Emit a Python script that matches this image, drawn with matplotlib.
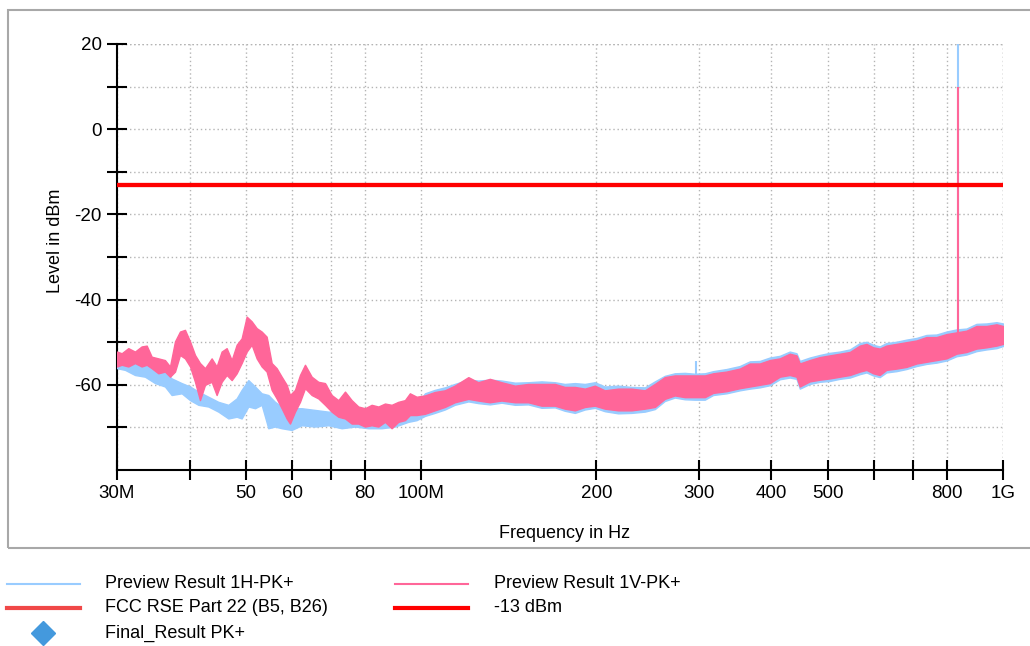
import matplotlib.pyplot as plt
from matplotlib.lines import Line2D
from matplotlib.patches import Rectangle
from matplotlib.ticker import FixedLocator, NullFormatter

plt.rcParams['font.family'] = ['Liberation Sans', 'DejaVu Sans']
plt.rcParams['axes.unicode_minus'] = False

# Preview Result 1V-PK+ : frequency (MHz), lower / upper envelope of the peak trace (dBm)
v_freq = [30, 30.56, 31.37, 32.21, 33.07, 33.74, 34.41, 35.33, 36.27, 37.0, 37.74, 38.49, 39.26,
          40.05, 40.85, 41.66, 42.5, 43.63, 44.5, 45.39, 46.3, 47.23, 48.17, 49.13, 50.12, 51.12,
          52.14, 53.18, 54.24, 55.33, 56.43, 57.56, 58.71, 59.49, 60.68, 61.89, 63.13, 64.82, 66.55,
          68.33, 70.15, 72.03, 73.96, 75.93, 77.96, 80.05, 82.18, 84.38, 86.63, 88.95, 91.32, 93.76,
          95.62, 98.18,
          101.5, 105.5, 109.8, 114.2, 120.5, 125.3, 131.2, 137.4, 144.9, 152.7, 161.0, 169.7, 176.5,
          183.7, 191.1, 198.8, 206.8, 218.0, 229.8, 242.3, 252.1, 262.2, 272.8, 283.8, 295.3, 307.2,
          317.5, 334.7, 352.8, 367.1, 381.9, 397.3, 413.4, 430.0, 441.6, 447.4, 465.4, 484.2, 503.8,
          524.2, 545.4, 567.4, 582.6, 598.0, 613.8, 630.2, 655.7, 682.3, 709.9, 738.6, 768.4, 799.5,
          831.7, 865.3, 900.2, 936.6, 974.5, 1000]
v_hi = [-52.2, -52.6, -51.4, -52.2, -51.0, -50.8, -53.4, -53.8, -54.2, -55.7, -49.8, -47.5, -47.1,
        -49.8, -53.0, -54.9, -56.1, -53.8, -55.7, -52.2, -51.4, -54.2, -50.6, -49.1, -44.0, -45.1,
        -46.7, -47.5, -48.7, -54.9, -56.1, -58.1, -60.0, -62.4, -61.2, -57.7, -55.3, -58.1, -59.3,
        -59.6, -62.4, -63.6, -61.6, -63.6, -65.1, -65.5, -64.7, -65.1, -64.4, -64.7, -64.0, -63.6,
        -62.0, -62.8,
        -62.5, -61.7, -61.3, -60.2, -58.2, -59.4, -58.6, -59.4, -60.2, -59.8, -59.8, -59.8, -60.5,
        -60.5, -60.9, -60.2, -61.3, -60.9, -60.9, -61.3, -59.8, -58.2, -57.8, -57.8, -57.8, -57.8,
        -57.3, -56.9, -56.2, -55.0, -55.0, -54.2, -53.8, -52.7, -53.1, -55.0, -54.2, -53.5, -53.1,
        -52.7, -52.3, -50.8, -50.4, -51.2, -51.5, -50.8, -50.4, -50.0, -49.6, -48.8, -48.8, -48.1,
        -47.7, -47.3, -46.2, -46.2, -45.8, -46.2]
v_lo = [-55.7, -55.3, -55.7, -54.9, -55.7, -55.3, -56.1, -57.3, -56.9, -58.1, -56.9, -53.0, -53.8,
        -55.7, -59.3, -63.6, -60.0, -59.3, -62.4, -59.3, -57.7, -58.9, -57.3, -54.9, -52.2, -50.6,
        -53.8, -55.7, -56.9, -61.2, -63.2, -65.5, -67.9, -69.1, -66.3, -64.0, -60.8, -62.4, -63.2,
        -64.7, -66.3, -67.5, -67.9, -69.1, -69.1, -69.8, -69.5, -69.8, -68.7, -70.2, -68.7, -68.3,
        -67.1, -67.1,
        -66.8, -66.0, -65.2, -64.1, -63.3, -63.7, -64.1, -63.7, -64.1, -64.1, -64.9, -64.9, -65.6,
        -66.0, -65.2, -64.9, -65.6, -66.0, -66.0, -65.6, -65.2, -63.3, -62.5, -62.9, -62.9, -62.9,
        -61.9, -61.5, -60.8, -60.4, -60.0, -59.6, -58.1, -57.7, -58.1, -60.4, -59.2, -58.8, -58.5,
        -58.1, -57.7, -56.9, -56.5, -57.3, -57.7, -56.5, -56.2, -55.8, -55.0, -54.6, -54.2, -53.8,
        -52.7, -52.3, -51.5, -51.2, -50.8, -50.4]

# Preview Result 1H-PK+
h_freq = [30, 30.97, 32.21, 33.51, 34.87, 36.27, 37.24, 38.75, 40.05, 41.39, 43.06, 44.8, 46.61,
          48.17, 49.13, 50.45, 51.8, 53.18, 54.6, 56.06, 57.56, 59.88, 62.3, 65.68, 69.23, 72.99,
          76.94, 81.11, 85.5, 90.13, 94.99, 98.18,
          101.5, 105.5, 109.8, 114.2, 120.5, 125.3, 131.2, 137.4, 144.9, 152.7, 161.0, 169.7, 176.5,
          183.7, 191.1, 198.8, 206.8, 218.0, 229.8, 242.3, 252.1, 262.2, 272.8, 283.8, 295.3, 307.2,
          317.5, 334.7, 352.8, 367.1, 381.9, 397.3, 413.4, 430.0, 441.6, 447.4, 465.4, 484.2, 503.8,
          524.2, 545.4, 567.4, 582.6, 598.0, 613.8, 630.2, 655.7, 682.3, 709.9, 738.6, 768.4, 799.5,
          831.7, 865.3, 900.2, 936.6, 974.5, 1000]
h_hi = [-53.0, -53.8, -54.2, -54.9, -56.5, -56.9, -58.5, -59.6, -60.4, -61.6, -62.8, -64.0, -64.7,
        -63.2, -61.2, -58.9, -60.4, -62.0, -62.4, -64.0, -65.1, -65.5, -65.5, -65.9, -66.3, -66.3,
        -66.7, -66.7, -66.3, -66.7, -65.9, -64.7,
        -62.0, -61.2, -60.6, -59.8, -58.8, -59.0, -58.8, -59.0, -59.5, -59.4, -59.2, -59.4, -59.8,
        -59.6, -59.8, -59.4, -60.4, -60.2, -60.5, -60.6, -59.2, -57.9, -57.3, -57.2, -57.4, -57.3,
        -56.8, -56.3, -55.6, -54.5, -54.4, -53.6, -53.2, -52.2, -52.6, -54.4, -53.6, -53.0, -52.5,
        -52.2, -51.7, -50.2, -49.9, -50.6, -51.0, -50.2, -49.9, -49.4, -49.0, -48.3, -48.2, -47.5,
        -47.0, -46.8, -45.7, -45.6, -45.3, -45.6]
h_lo = [-56.1, -56.5, -57.7, -58.1, -59.6, -60.4, -62.4, -62.0, -63.6, -64.7, -65.1, -66.3, -67.9,
        -67.5, -67.9, -65.1, -65.5, -64.7, -70.2, -69.8, -70.2, -70.6, -69.5, -69.8, -69.5, -70.2,
        -69.8, -70.2, -70.2, -69.8, -68.7, -68.3,
        -67.3, -66.6, -65.8, -64.7, -63.9, -64.3, -64.6, -64.2, -64.7, -64.6, -65.4, -65.3, -66.1,
        -66.6, -65.8, -65.4, -66.2, -66.7, -66.6, -66.3, -65.7, -63.8, -63.0, -63.4, -63.5, -63.5,
        -62.4, -62.0, -61.3, -60.9, -60.6, -60.1, -58.7, -58.3, -58.6, -60.9, -59.8, -59.3, -59.1,
        -58.6, -58.3, -57.5, -57.1, -57.8, -58.2, -57.1, -56.8, -56.3, -55.6, -55.1, -54.8, -54.3,
        -53.3, -52.9, -52.1, -51.7, -51.4, -50.9]

# single-frequency spurs (MHz): foot and peak level
h_spur_freq = [297, 836.5]
h_spur_base = [-58.0, -48.0]
h_spur_peak = [-54.3, 22.0]
v_spur_freq = [836.5]
v_spur_base = [-48.0]
v_spur_peak = [10.0]

limit_level = -13
f_start, f_stop = 30, 1000

x_ticks = [30, 40, 50, 60, 70, 80, 100, 200, 300, 400, 500, 600, 700, 800, 1000]
x_labels = ['30M', '', '50', '60', '', '80', '100M', '200', '300', '400', '500', '', '', '800', '1G']
y_major = [20, 0, -20, -40, -60]
y_minor = [10, -10, -30, -50, -70]

H_COLOR = '#99ccff'
V_COLOR = '#ff6699'
LIMIT_COLOR = '#ff0000'
FCC_COLOR = '#f04848'
FINAL_COLOR = '#4499dd'
GRID_COLOR = '#b4b4b4'

fig = plt.figure(figsize=(10.3, 6.46), dpi=100)
W, H = 1030, 646

# grey frame around the diagram area
fig.add_artist(Rectangle((8 / W, 1 - 548 / H), 1040 / W, 538 / H, transform=fig.transFigure,
                         fill=False, edgecolor='#a8a8a8', linewidth=1.5))

ax = fig.add_axes([117 / W, 1 - 470 / H, 886 / W, 426 / H])
ax.set_xscale('log')
ax.set_xlim(f_start, f_stop)
ax.set_ylim(-80, 20)

ax.fill_between(h_freq, h_lo, h_hi, color=H_COLOR, linewidth=1.0, edgecolor=H_COLOR, zorder=3)
ax.vlines(h_spur_freq, h_spur_base, h_spur_peak, color=H_COLOR, linewidth=1.5, zorder=3)
ax.fill_between(v_freq, v_lo, v_hi, color=V_COLOR, linewidth=1.0, edgecolor=V_COLOR, zorder=4)
ax.vlines(v_spur_freq, v_spur_base, v_spur_peak, color=V_COLOR, linewidth=1.5, zorder=4)

ax.plot([f_start, f_stop], [limit_level, limit_level], color=FCC_COLOR, linewidth=3, zorder=5)
ax.plot([f_start, f_stop], [limit_level, limit_level], color=LIMIT_COLOR, linewidth=3, zorder=6)

for s in ['top', 'right']:
    ax.spines[s].set_visible(False)
for s in ['left', 'bottom']:
    ax.spines[s].set_linewidth(1.5)

ax.xaxis.set_major_locator(FixedLocator(x_ticks))
ax.xaxis.set_minor_locator(FixedLocator([]))
ax.xaxis.set_minor_formatter(NullFormatter())
ax.set_xticklabels(x_labels)
ax.set_yticks(y_major)
ax.set_yticks(y_minor, minor=True)
ax.tick_params(axis='both', which='both', direction='inout', length=14, width=1.5,
               labelsize=13.5, pad=4)

ax.grid(True, which='both', color=GRID_COLOR, linestyle=(0, (1, 2)), linewidth=1.0, zorder=0)
ax.set_axisbelow(True)
ax.axhline(20, color=GRID_COLOR, linestyle=(0, (1, 2)), linewidth=1.0, zorder=0)
ax.axvline(f_stop, color=GRID_COLOR, linestyle=(0, (1, 2)), linewidth=1.0, zorder=0)

ax.set_xlabel('Frequency in Hz', fontsize=13)
ax.set_ylabel('Level in dBm', fontsize=13)
ax.xaxis.set_label_coords(0.5056, -0.128)
ax.yaxis.set_label_coords(-0.060, 0.538)


# legend below the frame
def legend_row(x0, x1, y, color, lw, text, tx):
    fig.add_artist(Line2D([x0 / W, x1 / W], [1 - y / H, 1 - y / H], color=color, linewidth=lw,
                          transform=fig.transFigure))
    fig.text(tx / W, 1 - y / H, text, fontsize=13, va='center', ha='left')


legend_row(7, 80, 584, H_COLOR, 1.5, 'Preview Result 1H-PK+', 105)
legend_row(7, 80, 608, FCC_COLOR, 3, 'FCC RSE Part 22 (B5, B26)', 105)
legend_row(395, 468, 584, V_COLOR, 1.5, 'Preview Result 1V-PK+', 494)
legend_row(395, 468, 608, LIMIT_COLOR, 3, '-13 dBm', 494)
fig.add_artist(Line2D([43 / W], [1 - 633 / H], marker='D', markersize=12, color=FINAL_COLOR,
                      linestyle='none', transform=fig.transFigure))
fig.text(105 / W, 1 - 633 / H, 'Final_Result PK+', fontsize=13, va='center', ha='left')

fig.savefig('out.png', dpi=100)
